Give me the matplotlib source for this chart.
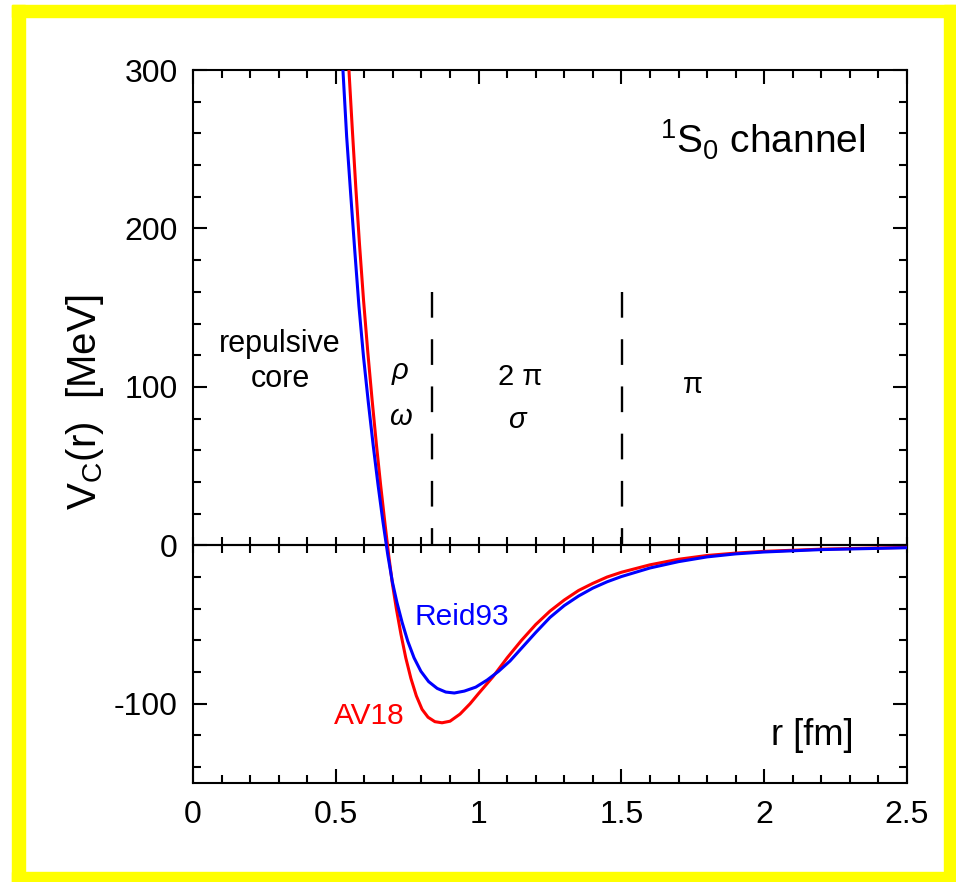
import matplotlib
matplotlib.use('Agg')
import matplotlib.pyplot as plt
from matplotlib.patches import Rectangle
from matplotlib.ticker import MultipleLocator

plt.rcParams['font.family'] = ['Liberation Sans', 'DejaVu Sans']
plt.rcParams['mathtext.default'] = 'regular'
plt.rcParams['axes.unicode_minus'] = False
plt.rcParams['lines.scale_dashes'] = False

# AV18 potential
r_av18 = [0.546, 0.558, 0.570, 0.583, 0.597, 0.612, 0.627, 0.642, 0.657, 0.672,
          0.685, 0.698, 0.712, 0.728, 0.745, 0.763, 0.782, 0.802, 0.823, 0.847,
          0.872, 0.900, 0.935, 0.970, 1.000, 1.050, 1.100, 1.150, 1.200, 1.250,
          1.300, 1.350, 1.400, 1.450, 1.500, 1.600, 1.700, 1.800, 1.900, 2.000,
          2.200, 2.500]
v_av18 = [300, 262, 226, 190, 155, 122, 92, 64, 38, 14,
          -6, -24, -40, -56, -71, -84, -95, -103.5, -108.5, -111.3,
          -112, -111, -106.5, -100, -93.5, -83, -71, -60, -50, -41.5,
          -34.5, -28.5, -24, -20, -17, -12.3, -8.8, -6.4, -4.9, -3.8,
          -2.4, -1.3]

# Reid93 potential
r_reid = [0.525, 0.538, 0.552, 0.566, 0.581, 0.597, 0.614, 0.631, 0.648, 0.665,
          0.682, 0.698, 0.714, 0.732, 0.752, 0.774, 0.798, 0.825, 0.855, 0.885,
          0.915, 0.950, 0.990, 1.030, 1.070, 1.110, 1.150, 1.200, 1.250, 1.300,
          1.350, 1.400, 1.450, 1.500, 1.600, 1.700, 1.800, 1.900, 2.000, 2.200,
          2.500]
v_reid = [300, 258, 222, 187, 151, 119, 90, 63, 38, 15,
          -6, -23, -36, -48.5, -60.5, -71, -79.5, -86, -90.3, -92.6,
          -93.2, -92, -89.5, -85, -79.5, -73, -65, -55, -45.5, -38,
          -32, -27, -23, -19.7, -14.3, -10.3, -7.3, -5.4, -4.2, -2.7,
          -1.5]

region_bounds = [0.837, 1.502]
x_ticks = [0, 0.5, 1, 1.5, 2, 2.5]
x_labels = ['0', '0.5', '1', '1.5', '2', '2.5']
y_ticks = [300, 200, 100, 0, -100]
y_labels = ['300', '200', '100', '0', '-100']

W, H = 956, 882
fig = plt.figure(figsize=(W / 100, H / 100), dpi=100)

# yellow frame
def band(x0, y0, x1, y1):
    fig.patches.append(Rectangle((x0 / W, 1 - y1 / H), (x1 - x0) / W, (y1 - y0) / H,
                                 transform=fig.transFigure, color='#ffff00', zorder=0))

band(12, 5, W, 17)
band(12, 5, 25, H)
band(12, 872, W, H)
band(944, 5, W, H)

ax = fig.add_axes([193 / W, 1 - 783 / H, 714 / W, 713 / H])
ax.set_xlim(0, 2.5)
ax.set_ylim(-150, 300)

ax.plot(r_av18, v_av18, color='#ff0000', lw=2.2, zorder=3, solid_joinstyle='round')
ax.plot(r_reid, v_reid, color='#0000ff', lw=2.2, zorder=4, solid_joinstyle='round')

for b in region_bounds:
    ax.plot([b, b], [160, 0], color='k', lw=1.7, dashes=(18.5, 15.5))

ax.axhline(0, color='k', lw=1.5, zorder=2)

ax.set_xticks(x_ticks)
ax.set_xticklabels(x_labels)
ax.set_yticks(y_ticks)
ax.set_yticklabels(y_labels)
ax.xaxis.set_minor_locator(MultipleLocator(0.1))
ax.yaxis.set_minor_locator(MultipleLocator(20))
ax.tick_params(which='both', direction='in', top=True, right=True, width=1.5,
               labelsize=23, color='k')
ax.tick_params(which='major', length=10)
ax.tick_params(which='minor', length=6)
ax.tick_params(axis='x', pad=12)
ax.tick_params(axis='y', pad=11)
for s in ax.spines.values():
    s.set_linewidth(1.5)

# ticks crossing the zero line
sec = ax.secondary_xaxis(150 / 450)
sec.xaxis.set_major_locator(MultipleLocator(0.5))
sec.xaxis.set_minor_locator(MultipleLocator(0.1))
sec.tick_params(which='both', direction='inout', length=11, width=1.5,
                labelbottom=False, labeltop=False)
for s in sec.spines.values():
    s.set_linewidth(1.5)

ax.text(-0.151, 0.534, r'V$_C$(r)  [MeV]', transform=ax.transAxes, rotation=90,
        ha='center', va='center', fontsize=29)

ax.text(2.353, 256, r'$^1$S$_0$ channel', ha='right', va='center', fontsize=28)
ax.text(0.305, 116, 'repulsive\ncore', ha='center', va='center', fontsize=22,
        linespacing=1.2)
ax.text(0.725, 110, 'ρ', ha='center', va='center', fontsize=21, style='italic')
ax.text(0.725, 81, 'ω', ha='center', va='center', fontsize=21, style='italic')
ax.text(1.145, 106, '2 π', ha='center', va='center', fontsize=21)
ax.text(1.135, 79, 'σ', ha='center', va='center', fontsize=21, style='italic')
ax.text(1.75, 101, 'π', ha='center', va='center', fontsize=21)
ax.text(0.942, -45, 'Reid93', color='#0000ff', ha='center', va='center', fontsize=21.5)
ax.text(0.616, -108, 'AV18', color='#ff0000', ha='center', va='center', fontsize=21.5)
ax.text(2.167, -120, 'r [fm]', ha='center', va='center', fontsize=26)

fig.savefig('out.png', dpi=100)
